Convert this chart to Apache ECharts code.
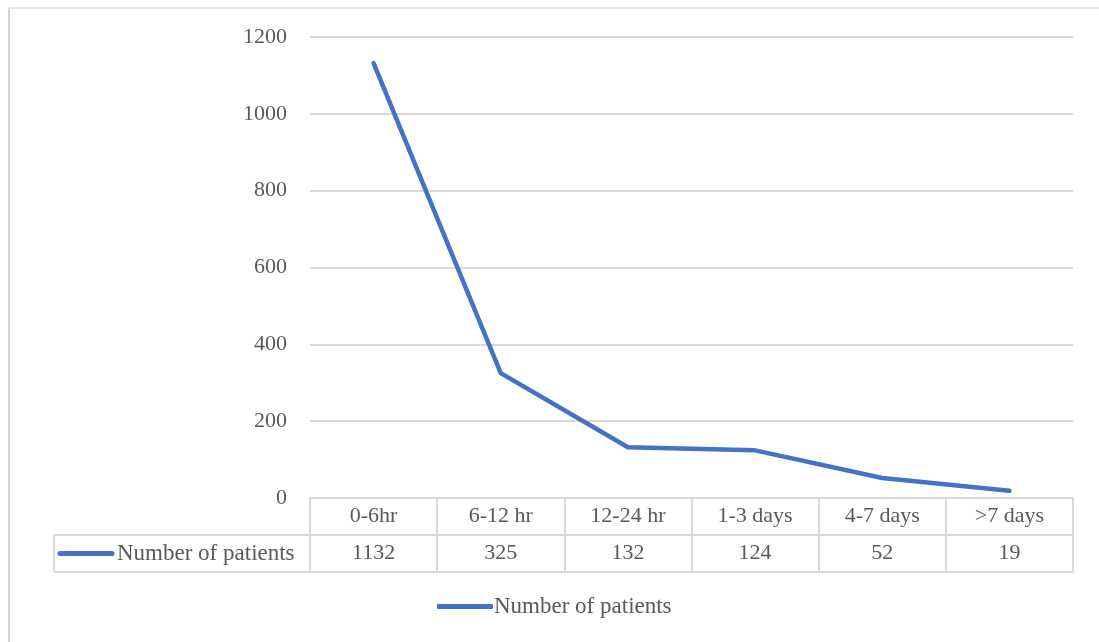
<!DOCTYPE html>
<html>
<head>
<meta charset="utf-8">
<script src="https://cdn.jsdelivr.net/npm/echarts@6/dist/echarts.min.js"></script>
<style>
  html, body { margin: 0; padding: 0; background: #fff; }
  #chart { width: 1099px; height: 642px; }
</style>
</head>
<body>
<div id="chart"></div>
<script>
// Time from onset to presentation, patient counts per interval
const categories = ['0-6hr', '6-12 hr', '12-24 hr', '1-3 days', '4-7 days', '>7 days'];
const patients = [1132, 325, 132, 124, 52, 19];
const seriesName = 'Number of patients';
const yTicks = { min: 0, max: 1200, interval: 200 };

const FONT = '"Liberation Serif", "Times New Roman", serif';
const TEXT = '#595959';
const RULE = '#d9d9d9';
const BLUE = '#4472C4';
const FS = 22;
const FS_NAME = 23;

const chart = echarts.init(document.getElementById('chart'), null, { renderer: 'canvas' });

const GRID = { left: 310, right: 26, top: 37, bottom: 144 };
const ROW = 37;

chart.setOption({
  backgroundColor: '#fff',
  animation: false,
  grid: GRID,
  legend: {
    data: [seriesName],
    left: 432,
    top: 590,
    icon: 'roundRect',
    itemWidth: 56,
    itemHeight: 5,
    textStyle: { fontFamily: FONT, fontSize: FS_NAME, color: TEXT, padding: [0, 0, 0, -4] }
  },
  xAxis: [
    {
      type: 'category',
      data: categories,
      boundaryGap: true,
      position: 'bottom',
      axisLine: { show: true, lineStyle: { color: RULE, width: 2 } },
      axisTick: { show: true, interval: 0, length: ROW * 2, lineStyle: { color: RULE, width: 2 } },
      axisLabel: { interval: 0, margin: 7, fontFamily: FONT, fontSize: FS, color: TEXT },
      splitLine: { show: false }
    },
    {
      type: 'category',
      data: patients.map(String),
      boundaryGap: true,
      position: 'bottom',
      offset: ROW,
      axisLine: { show: true, lineStyle: { color: RULE, width: 2 } },
      axisTick: { show: false },
      axisLabel: { interval: 0, margin: 7, fontFamily: FONT, fontSize: FS, color: TEXT }
    },
    {
      type: 'category',
      data: categories,
      boundaryGap: true,
      position: 'bottom',
      offset: ROW * 2,
      axisLine: { show: true, lineStyle: { color: RULE, width: 2 } },
      axisTick: { show: false },
      axisLabel: { show: false }
    }
  ],
  yAxis: {
    type: 'value',
    min: yTicks.min,
    max: yTicks.max,
    interval: yTicks.interval,
    axisLine: { show: false },
    axisTick: { show: false },
    axisLabel: { margin: 23, fontFamily: FONT, fontSize: FS, color: TEXT, formatter: v => String(v) },
    splitLine: { lineStyle: { color: RULE, width: 2 } }
  },
  series: [{
    name: seriesName,
    type: 'line',
    xAxisIndex: 0,
    data: patients,
    showSymbol: false,
    symbol: 'none',
    lineStyle: { color: BLUE, width: 4.5, cap: 'round', join: 'round' },
    itemStyle: { color: BLUE }
  }]
});

// Outer chart frame, left header cell of the data table and its key
const rowTop = 642 - GRID.bottom + ROW;
const rowBottom = rowTop + ROW;
const cellLeft = 54;
chart.setOption({
  graphic: [
    { type: 'line', shape: { x1: 9, y1: 8, x2: 1099, y2: 8 }, style: { stroke: '#e3e3e3', lineWidth: 2 } },
    { type: 'line', shape: { x1: 9, y1: 8, x2: 9, y2: 642 }, style: { stroke: '#d4d4d4', lineWidth: 2 } },
    { type: 'line', shape: { x1: cellLeft, y1: rowTop, x2: GRID.left, y2: rowTop }, style: { stroke: RULE, lineWidth: 2 } },
    { type: 'line', shape: { x1: cellLeft, y1: rowBottom, x2: GRID.left, y2: rowBottom }, style: { stroke: RULE, lineWidth: 2 } },
    { type: 'line', shape: { x1: cellLeft, y1: rowTop, x2: cellLeft, y2: rowBottom }, style: { stroke: RULE, lineWidth: 2 } },
    { type: 'line', shape: { x1: 60, y1: rowTop + ROW / 2, x2: 112, y2: rowTop + ROW / 2 }, style: { stroke: BLUE, lineWidth: 5, lineCap: 'round' } },
    { type: 'text', x: 117, y: rowTop + ROW / 2, style: { text: seriesName, font: FS_NAME + 'px ' + FONT, fill: TEXT, textVerticalAlign: 'middle' } }
  ]
});
</script>
</body>
</html>
